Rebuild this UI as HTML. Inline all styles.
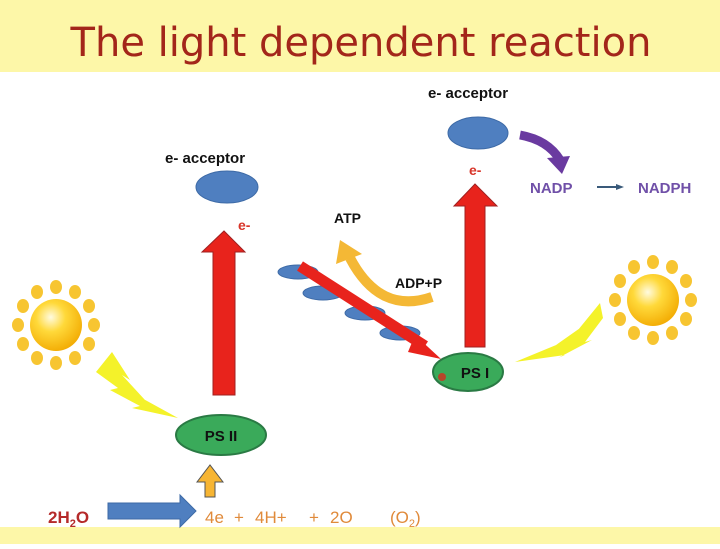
<!DOCTYPE html>
<html><head><style>
body{margin:0;width:720px;height:544px;overflow:hidden;background:#fff;font-family:"Liberation Sans",sans-serif}
</style></head><body>
<svg width="720" height="544" xmlns="http://www.w3.org/2000/svg" font-family="Liberation Sans, sans-serif">
<defs>
<radialGradient id="sun" cx="0.4" cy="0.35" r="0.7"><stop offset="0" stop-color="#fffbe0"/><stop offset="0.4" stop-color="#ffd93a"/><stop offset="1" stop-color="#f2a900"/></radialGradient>
<g id="rays" fill="#f7c531">
<ellipse cx="0" cy="-38" rx="6" ry="7"/><ellipse cx="19" cy="-33" rx="6" ry="7"/><ellipse cx="33" cy="-19" rx="6" ry="7"/><ellipse cx="38" cy="0" rx="6" ry="7"/><ellipse cx="33" cy="19" rx="6" ry="7"/><ellipse cx="19" cy="33" rx="6" ry="7"/><ellipse cx="0" cy="38" rx="6" ry="7"/><ellipse cx="-19" cy="33" rx="6" ry="7"/><ellipse cx="-33" cy="19" rx="6" ry="7"/><ellipse cx="-38" cy="0" rx="6" ry="7"/><ellipse cx="-33" cy="-19" rx="6" ry="7"/><ellipse cx="-19" cy="-33" rx="6" ry="7"/>
</g>
</defs>
<rect x="0" y="0" width="720" height="72" fill="#fdf7a8"/>
<rect x="0" y="527" width="720" height="17" fill="#fdf7a8"/>
<text x="361" y="56" text-anchor="middle" font-size="40" fill="#a3261a" font-family="DejaVu Sans, sans-serif">The light dependent reaction</text>

<!-- suns -->
<g transform="translate(56,325)"><use href="#rays"/><circle r="26" fill="url(#sun)"/></g>
<g transform="translate(653,300)"><use href="#rays"/><circle r="26" fill="url(#sun)"/></g>
<!-- lightning -->
<polygon points="112,352 130,380 122,375 145,400 138,396 178,418 132,408 140,406 110,390 118,388 96,372" fill="#f4f22a"/>
<polygon points="600,303 578,330 583,326 556,345 561,343 515,362 565,355 558,358 592,340 585,342 603,318" fill="#f4f22a"/>

<!-- left side -->
<text x="165" y="163" font-size="15" font-weight="bold" fill="#111">e- acceptor</text>
<ellipse cx="227" cy="187" rx="31" ry="16" fill="#4f7fc0" stroke="#3d6aa6"/>
<text x="238" y="230" font-size="14" font-weight="bold" fill="#d8352a">e-</text>
<polygon points="213,395 213,252 202,252 224,231 245,252 235,252 235,395" fill="#e8231c" stroke="#a02020"/>
<ellipse cx="221" cy="435" rx="45" ry="20" fill="#3aaa5a" stroke="#2a7a44" stroke-width="2"/>
<text x="221" y="441" text-anchor="middle" font-size="15" font-weight="bold" fill="#111">PS II</text>
<polygon points="205,497 205,482 197,482 210,465 223,482 215,482 215,497" fill="#f7b533" stroke="#555"/>
<text x="48" y="523" font-size="17" font-weight="bold" fill="#b52a2a">2H<tspan font-size="11" dy="4">2</tspan><tspan dy="-4">O</tspan></text>
<polygon points="108,503 180,503 180,495 196,511 180,527 180,519 108,519" fill="#4f7fc0" stroke="#3d6aa6"/>
<g font-size="17" fill="#e08a3a">
<text x="205" y="523">4e</text><text x="234" y="523">+</text><text x="255" y="523">4H+</text><text x="309" y="523">+</text><text x="330" y="523">2O</text>
<text x="390" y="523">(O<tspan font-size="11" dy="4">2</tspan><tspan dy="-4">)</tspan></text>
</g>

<!-- chain -->
<ellipse cx="298" cy="272" rx="20" ry="7" fill="#4f7fc0" stroke="#3d6aa6"/>
<ellipse cx="323" cy="293" rx="20" ry="7" fill="#4f7fc0" stroke="#3d6aa6"/>
<ellipse cx="365" cy="313" rx="20" ry="7" fill="#4f7fc0" stroke="#3d6aa6"/>
<ellipse cx="400" cy="333" rx="20" ry="7" fill="#4f7fc0" stroke="#3d6aa6"/>
<path d="M300,266 L425,346" stroke="#e8231c" stroke-width="11"/>
<polygon points="415,335 441,359 408,352" fill="#e8231c"/>
<path d="M432,297 Q380,315 350,258" stroke="#f4b835" stroke-width="10" fill="none"/>
<polygon points="336,264 340,240 362,254" fill="#f4b835"/>
<text x="334" y="223" font-size="14" font-weight="bold" fill="#111">ATP</text>
<text x="395" y="288" font-size="14" font-weight="bold" fill="#111">ADP+P</text>

<!-- right side -->
<text x="428" y="98" font-size="15" font-weight="bold" fill="#111">e- acceptor</text>
<ellipse cx="478" cy="133" rx="30" ry="16" fill="#4f7fc0" stroke="#3d6aa6"/>
<text x="469" y="175" font-size="14" font-weight="bold" fill="#d8352a">e-</text>
<polygon points="465,347 465,206 454,206 475,184 497,206 485,206 485,347" fill="#e8231c" stroke="#a02020"/>
<ellipse cx="468" cy="372" rx="35" ry="19" fill="#3aaa5a" stroke="#2a7a44" stroke-width="2"/>
<text x="475" y="378" text-anchor="middle" font-size="15" font-weight="bold" fill="#111">PS I</text>
<circle cx="442" cy="377" r="4" fill="#b5462a"/>
<path d="M520,135 Q548,140 560,160" stroke="#6a3aa0" stroke-width="9" fill="none"/>
<polygon points="547,158 570,156 562,174" fill="#6a3aa0"/>
<text x="530" y="193" font-size="15" font-weight="bold" fill="#7050a8">NADP</text>
<line x1="597" y1="187" x2="617" y2="187" stroke="#3a5a7a" stroke-width="2"/>
<polygon points="616,184 624,187 616,190" fill="#3a5a7a"/>
<text x="638" y="193" font-size="15" font-weight="bold" fill="#7050a8">NADPH</text>
</svg>
</body></html>
